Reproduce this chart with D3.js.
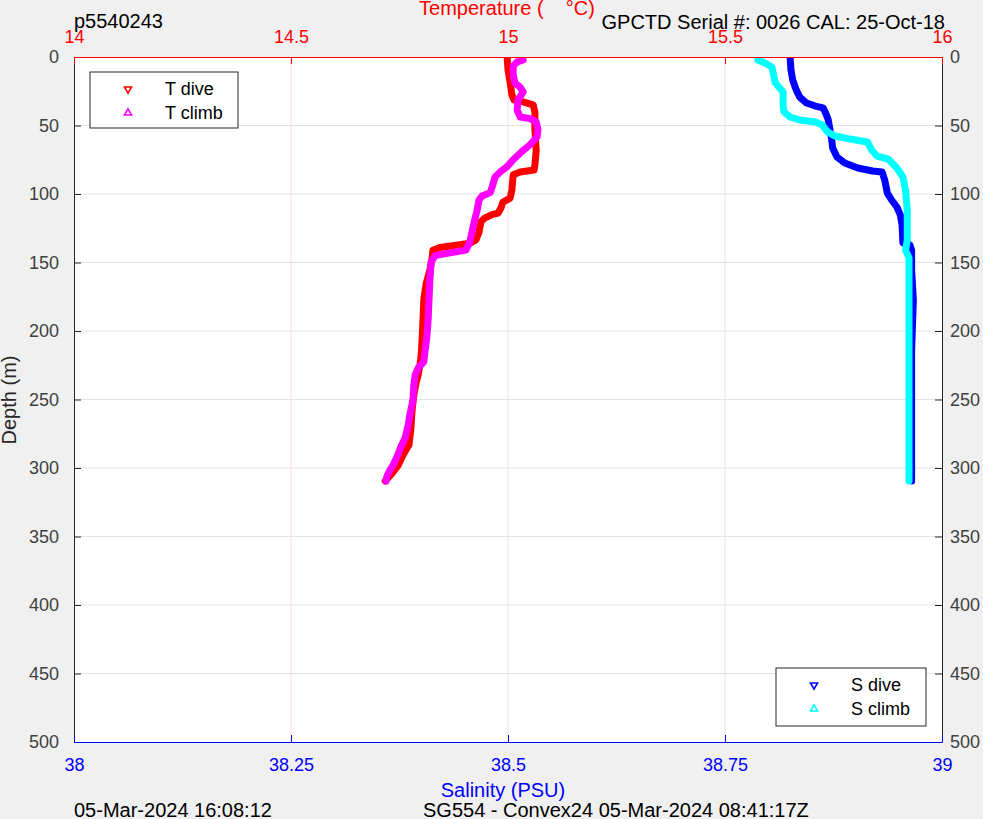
<!DOCTYPE html>
<html><head><meta charset="utf-8">
<script src="https://cdn.jsdelivr.net/npm/d3@7"></script>
<style>
html,body{margin:0;padding:0;background:#f0f0f0;}
svg{display:block;font-family:"Liberation Sans",Arial,Helvetica,sans-serif;}
</style></head>
<body>
<svg id="chart" width="983" height="819"></svg>
<script>
// ---- data ----
const depthTicks = [0,50,100,150,200,250,300,350,400,450,500];
const tempTicks = [14,14.5,15,15.5,16];
const salTicks = [38,38.25,38.5,38.75,39];

const tDiveDepth = [0,9.5,19,27.7,31.4,32.8,35,40,53,68,79,82.5,84,86,97,103,106,110,114,115,117.5,120,128,133.6,136,137,139,141,147,155.5,166,177,192,206.6,217.5,225,232,238,247,258,272,283,290.5,298,303,307,309.5];
const tDiveTemp  = [14.998,15.000,15.005,15.009,15.014,15.035,15.058,15.062,15.062,15.065,15.062,15.060,15.028,15.012,15.009,15.005,14.988,14.984,14.977,14.963,14.947,14.938,14.933,14.926,14.912,14.889,14.843,14.827,14.825,14.820,14.811,14.806,14.804,14.802,14.800,14.797,14.793,14.788,14.783,14.779,14.776,14.772,14.758,14.747,14.735,14.724,14.717];

const tClimbDepth = [2.2,3.6,6.6,13,19,22,25.5,31.4,38.7,43.8,45,47.4,53,58.4,64,69,75,80,84,87.6,93.4,99,101.5,104.4,111.7,120.4,127.7,135,141,143,145,149.6,162.8,177,192,204.4,214,222.6,227,232,239.4,250.4,261,268.6,278,284.7,292,298,301.5,306,309.5];
const tClimbTemp  = [15.035,15.021,15.012,15.012,15.016,15.028,15.035,15.023,15.021,15.028,15.051,15.065,15.069,15.067,15.051,15.032,15.012,14.998,14.982,14.970,14.965,14.959,14.940,14.933,14.929,14.922,14.917,14.912,14.903,14.866,14.832,14.823,14.820,14.818,14.816,14.813,14.809,14.806,14.793,14.786,14.783,14.781,14.774,14.770,14.763,14.753,14.744,14.735,14.728,14.721,14.719];

const sDiveDepth = [0,9.5,16.8,24,29.2,33.6,35.8,37.2,40.9,46,53.3,60.6,66.4,73,77.4,81,83.2,84,89.8,99.3,104.4,109.5,115.3,122.6,135.8,137.2,140.9,155.5,177.4,213.9,250.4,286.9,309.5];
const sDiveSal   = [38.825,38.826,38.828,38.832,38.836,38.844,38.854,38.863,38.866,38.869,38.871,38.873,38.874,38.879,38.888,38.903,38.920,38.931,38.934,38.937,38.942,38.948,38.952,38.954,38.955,38.963,38.965,38.965,38.967,38.965,38.965,38.965,38.965];

const sClimbDepth = [2.2,4.4,7.3,13.1,19,22.6,25.5,35,40.1,43.8,46,47.4,49.6,54.7,57.7,59.9,62,67.9,72.3,74.5,81,87.6,97,111.7,133.6,140.9,146.7,177.4,250.4,309.5];
const sClimbSal   = [38.788,38.796,38.804,38.806,38.808,38.813,38.817,38.817,38.818,38.825,38.836,38.854,38.862,38.868,38.877,38.894,38.914,38.919,38.925,38.938,38.948,38.955,38.958,38.960,38.960,38.958,38.962,38.962,38.962,38.962];

const tLegend = ["T dive","T climb"];
const sLegend = ["S dive","S climb"];

// ---- layout ----
const L = 74, R = 942, T = 57, B = 742;
const svg = d3.select("#chart");
svg.append("rect").attr("width",983).attr("height",819).attr("fill","#f0f0f0");
svg.append("rect").attr("x",L).attr("y",T).attr("width",R-L).attr("height",B-T).attr("fill","#fff");

const y = d3.scaleLinear().domain([0,500]).range([T,B]);
const xT = d3.scaleLinear().domain([14,16]).range([L,R]);
const xS = d3.scaleLinear().domain([38,39]).range([L,R]);

// grid
svg.append("g").selectAll("line").data(depthTicks.filter(d=>d>0&&d<500)).join("line")
  .attr("x1",L).attr("x2",R).attr("y1",d=>y(d)).attr("y2",d=>y(d))
  .attr("stroke","#e3e3e3").attr("stroke-width",1);
svg.append("g").selectAll("line").data(tempTicks.filter(d=>d>14&&d<16)).join("line")
  .attr("x1",d=>xT(d)).attr("x2",d=>xT(d)).attr("y1",T).attr("y2",B)
  .attr("stroke","#ffd9d9").attr("stroke-width",1);

// data lines
const clip = svg.append("clipPath").attr("id","clp").append("rect").attr("x",L).attr("y",T).attr("width",R-L).attr("height",B-T);
const plot = svg.append("g").attr("clip-path","url(#clp)");
function drawLine(depths, vals, xs, color){
  const pts = depths.map((d,i)=>[xs(vals[i]), y(d)]);
  plot.append("path").attr("d", d3.line()(pts)).attr("fill","none")
    .attr("stroke",color).attr("stroke-width",7)
    .attr("stroke-linejoin","round").attr("stroke-linecap","round");
}
drawLine(tDiveDepth, tDiveTemp, xT, "#ff0000");
drawLine(tClimbDepth, tClimbTemp, xT, "#ff00ff");
drawLine(sDiveDepth, sDiveSal, xS, "#0000ff");
drawLine(sClimbDepth, sClimbSal, xS, "#00ffff");

// axes
function styleAxis(g, color, fs){
  g.selectAll(".tick line").attr("stroke",color);
  g.selectAll(".domain").attr("stroke",color);
  g.selectAll("text").attr("fill",color).attr("font-size",fs).attr("font-family","Liberation Sans, Arial, sans-serif");
}
const gray = "#262626";
const gl = svg.append("g").attr("transform",`translate(${L},0)`)
  .call(d3.axisLeft(y).tickValues(depthTicks).tickSize(-7).tickSizeOuter(0).tickPadding(15).tickFormat(d=>String(d)));
styleAxis(gl, gray, 18); gl.selectAll("text").attr("fill","#404040");
const gr = svg.append("g").attr("transform",`translate(${R},0)`)
  .call(d3.axisRight(y).tickValues(depthTicks).tickSize(-7).tickSizeOuter(0).tickPadding(8).tickFormat(d=>String(d)));
styleAxis(gr, gray, 18); gr.selectAll("text").attr("fill","#404040");
const gb = svg.append("g").attr("transform",`translate(0,${B})`)
  .call(d3.axisBottom(xS).tickValues(salTicks).tickSize(-7).tickSizeOuter(0).tickPadding(16).tickFormat(d=>String(d)));
styleAxis(gb, "#0000ff", 18);
const gt = svg.append("g").attr("transform",`translate(0,${T})`)
  .call(d3.axisTop(xT).tickValues(tempTicks).tickSize(-7).tickSizeOuter(0).tickPadding(14).tickFormat(d=>String(d)));
styleAxis(gt, "#ff0000", 18);

// titles
const txt = (x,yy,s,opts={}) => svg.append("text").attr("x",x).attr("y",yy)
  .attr("font-size",opts.fs||20).attr("fill",opts.color||"#000")
  .attr("text-anchor",opts.anchor||"start").style("white-space","pre").text(s);
txt(507,15,"Temperature (    °C)",{color:"#ff0000",anchor:"middle"});
txt(74,28,"p5540243");
txt(945,29,"GPCTD Serial #: 0026 CAL: 25-Oct-18",{anchor:"end"});
txt(503,797,"Salinity (PSU)",{color:"#0000ff",anchor:"middle"});
txt(74,817,"05-Mar-2024 16:08:12");
txt(423,817,"SG554 - Convex24 05-Mar-2024 08:41:17Z");
svg.append("text").attr("transform","translate(16,400) rotate(-90)").attr("text-anchor","middle")
  .attr("font-size",20).attr("fill","#262626").text("Depth (m)");

// legends
function legend(x0,y0,w,h,labels,colors,dirs){
  const g = svg.append("g");
  g.append("rect").attr("x",x0).attr("y",y0).attr("width",w).attr("height",h)
    .attr("fill","#fff").attr("stroke",gray).attr("stroke-width",1);
  labels.forEach((lab,i)=>{
    const cy = y0 + 17 + i*24;
    g.append("path").attr("d", d3.symbol(d3.symbolTriangle, 22)())
      .attr("transform",`translate(${x0+38},${cy}) rotate(${dirs[i]})`)
      .attr("fill","#fff").attr("stroke",colors[i]).attr("stroke-width",1.6);
    g.append("text").attr("x",x0+75).attr("y",cy+6).attr("font-size",18).attr("fill","#000").text(lab);
  });
}
legend(90,72,148,56,tLegend,["#ff0000","#ff00ff"],[180,0]);
legend(776,668,150,58,sLegend,["#0000ff","#00ffff"],[180,0]);
</script>
</body></html>
